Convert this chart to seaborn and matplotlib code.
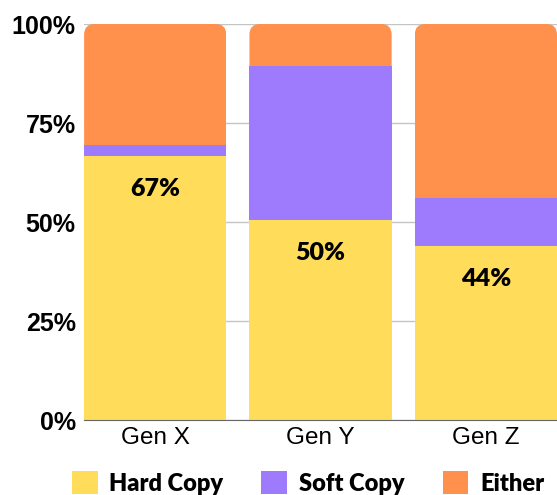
import matplotlib
matplotlib.use("Agg")
import matplotlib.pyplot as plt
from matplotlib.patches import FancyBboxPatch, Patch
import seaborn as sns

categories = ["Gen X", "Gen Y", "Gen Z"]
hard_copy = [66.7, 50.6, 44.0]
soft_copy = [2.8, 38.8, 12.1]
either = [30.5, 10.6, 43.9]
bar_labels = ["67%", "50%", "44%"]
y_ticks = [0, 25, 50, 75, 100]
y_tick_labels = ["0%", "25%", "50%", "75%", "100%"]

colors = {"Hard Copy": "#FFDC59", "Soft Copy": "#9E7BFC", "Either": "#FF914D"}

sns.set_style("white")
plt.rcParams["font.family"] = ["Liberation Sans", "DejaVu Sans"]
plt.rcParams["text.color"] = "black"
plt.rcParams["xtick.color"] = "black"
plt.rcParams["ytick.color"] = "black"

fig = plt.figure(figsize=(5.57, 4.95), dpi=100)
ax = fig.add_axes([0.151, 0.1515, 0.849, 0.80])

bottom_soft = [h for h in hard_copy]
bottom_either = [h + s for h, s in zip(hard_copy, soft_copy)]

bar_kw = dict(width=0.86, saturation=1, linewidth=0, ax=ax, zorder=2)
sns.barplot(x=categories, y=hard_copy, color=colors["Hard Copy"], **bar_kw)
n = len(ax.patches)
sns.barplot(x=categories, y=soft_copy, bottom=bottom_soft, color=colors["Soft Copy"], **bar_kw)
sns.barplot(x=categories, y=either, bottom=bottom_either, color=colors["Either"], **bar_kw)

ax.set_xlim(-0.43, 2.43)
ax.set_ylim(0, 100)

# round only the top corners of the top segment
for bar in ax.patches[2 * n:]:
    clip = FancyBboxPatch((bar.get_x(), bar.get_y() - 10), bar.get_width(), bar.get_height() + 10,
                          boxstyle="round,pad=0,rounding_size=0.065",
                          mutation_aspect=41, transform=ax.transData,
                          facecolor="none", edgecolor="none")
    ax.add_patch(clip)
    bar.set_clip_path(clip)

# value labels inside the hard copy segment
for i, (v, lab) in enumerate(zip(hard_copy, bar_labels)):
    ax.annotate(lab, (i, v), xytext=(0, -24), textcoords="offset points",
                ha="center", va="center", fontsize=18, fontweight="heavy",
                family=["Lato", "DejaVu Sans"], color="black", zorder=3)

ax.set_yticks(y_ticks)
ax.set_yticklabels(y_tick_labels, fontsize=18, fontweight="bold")
ax.tick_params(axis="y", length=0, pad=6)
ax.tick_params(axis="x", length=0, pad=5, labelsize=17.5)
ax.grid(axis="y", color="#c4c4c4", linewidth=1, zorder=0)
ax.set_axisbelow(True)
for s in ["left", "right", "top"]:
    ax.spines[s].set_visible(False)
ax.spines["bottom"].set_color("#666666")

handles = [Patch(facecolor=c, edgecolor="none", label=k) for k, c in colors.items()]
fig.legend(handles=handles, loc="lower center", bbox_to_anchor=(0.553, -0.042), ncol=3,
           frameon=False, handlelength=1.1, handleheight=1.1, handletextpad=0.5,
           columnspacing=1.6, labelcolor="black",
           prop={"family": ["Lato", "DejaVu Sans"], "weight": "heavy", "size": 17})

fig.savefig("out.png", dpi=100)
